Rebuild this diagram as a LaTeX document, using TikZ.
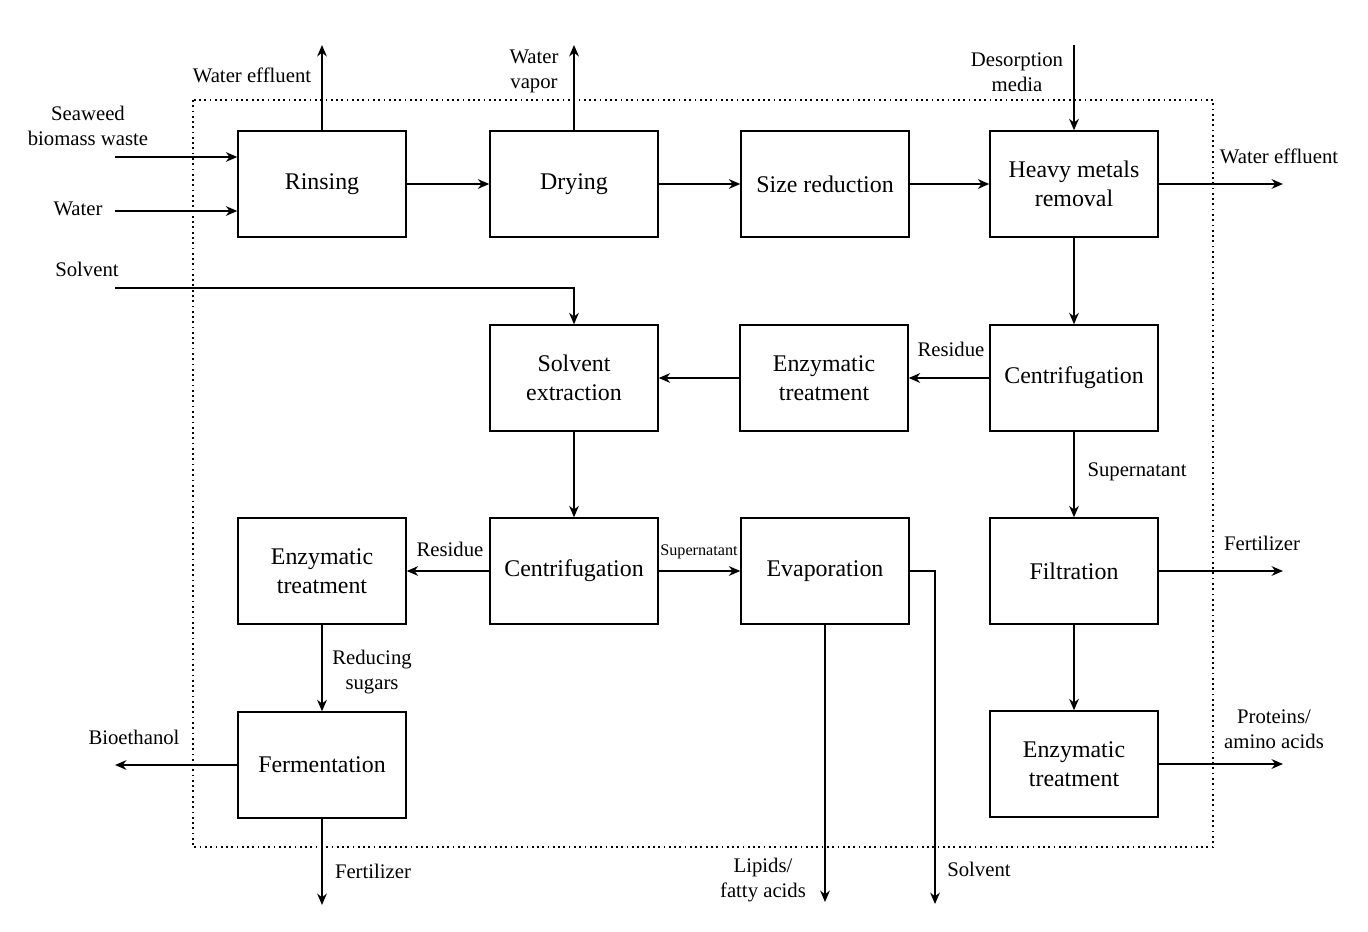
\documentclass[tikz,border=0pt]{standalone}
\usepackage{fontspec}
\setmainfont{Liberation Serif}
\usetikzlibrary{arrows.meta}

\begin{document}
\begin{tikzpicture}[x=0.02cm, y=-0.02cm,
    unit/.style={draw, line width=0.8pt, rectangle, align=center, minimum width=3.36cm, minimum height=2.12cm, font=\fontsize{13.6}{16.5}\selectfont},
    lbl/.style={align=center, inner sep=1pt, font=\fontsize{11.8}{14.2}\selectfont},
    flow/.style={-{Stealth[length=6.5pt, width=5.5pt]}, line width=1.1pt}]
    \useasboundingbox (0,0) rectangle (1368,932);

    % plant boundary
    \draw[dotted, line width=1pt] (193,100) rectangle (1213,847);

    % process units
    \node[unit] (rinse) at (322,184) {Rinsing};
    \node[unit] (dry) at (574,184) {Drying};
    \node[unit] (size) at (825,184) {Size reduction};
    \node[unit] (metal) at (1074,184) {Heavy metals\\removal};
    \node[unit] (solvx) at (574,378) {Solvent\\extraction};
    \node[unit] (enzA) at (824,378) {Enzymatic\\treatment};
    \node[unit] (centA) at (1074,378) {Centrifugation};
    \node[unit] (enzB) at (322,571) {Enzymatic\\treatment};
    \node[unit] (centB) at (574,571) {Centrifugation};
    \node[unit] (evap) at (825,571) {Evaporation};
    \node[unit] (filt) at (1074,571) {Filtration};
    \node[unit] (ferm) at (322,765) {Fermentation};
    \node[unit] (enzC) at (1074,764) {Enzymatic\\treatment};

    % free ends of streams
    \coordinate (seaweedIn) at (115,157);
    \coordinate (waterIn) at (115,211);
    \coordinate (effOut) at (322,45);
    \coordinate (vapOut) at (574,45);
    \coordinate (desIn) at (1074,45);
    \coordinate (effOutR) at (1283,184);
    \coordinate (solvIn) at (115,288);
    \coordinate (lipOut) at (825,902);
    \coordinate (solvOut) at (935,904);
    \coordinate (ethOut) at (115,765);
    \coordinate (fertOut) at (322,905);
    \coordinate (fertOutR) at (1283,571);
    \coordinate (protOut) at (1283,764);

    % stream labels
    \node[lbl] (l1) at (88,126) {Seaweed\\biomass waste};
    \node[lbl] (l2) at (78,209) {Water};
    \node[lbl] (l3) at (252,75) {Water effluent};
    \node[lbl] (l4) at (534,71) {Water\\vapor};
    \node[lbl] (l5) at (1017,72) {Desorption\\media};
    \node[lbl] (l6) at (1279,156) {Water effluent};
    \node[lbl] (l7) at (87,269) {Solvent};
    \node[lbl] (l8) at (951,349) {Residue};
    \node[lbl] (l9) at (1137,472) {Supernatant};
    \node[lbl] (l10) at (450,549) {Residue};
    \node[lbl, font=\fontsize{9.2}{11}\selectfont] (l11) at (699,552) {Supernatant};
    \node[lbl] (l12) at (1262,543) {Fertilizer};
    \node[lbl] (l13) at (372,672) {Reducing\\sugars};
    \node[lbl] (l14) at (1274,729) {Proteins/\\amino acids};
    \node[lbl] (l15) at (134,737) {Bioethanol};
    \node[lbl] (l16) at (373,871) {Fertilizer};
    \node[lbl] (l17) at (763,880) {Lipids/\\fatty acids};
    \node[lbl] (l18) at (979,869) {Solvent};

    % streams
    \draw[flow] (seaweedIn) -- (seaweedIn -| rinse.west);
    \draw[flow] (waterIn) -- (waterIn -| rinse.west);
    \draw[flow] (rinse.north) -- (effOut);
    \draw[flow] (dry.north) -- (vapOut);
    \draw[flow] (desIn) -- (metal.north);
    \draw[flow] (rinse) -- (dry);
    \draw[flow] (dry) -- (size);
    \draw[flow] (size) -- (metal);
    \draw[flow] (metal) -- (effOutR);
    \draw[flow] (metal) -- (centA);
    \draw[flow] (solvIn) -| (solvx.north);
    \draw[flow] (centA) -- (enzA);
    \draw[flow] (enzA) -- (solvx);
    \draw[flow] (solvx) -- (centB);
    \draw[flow] (centA) -- (filt);
    \draw[flow] (centB) -- (enzB);
    \draw[flow] (centB) -- (evap);
    \draw[flow] (evap.east) -| (solvOut);
    \draw[flow] (evap.south) -- (lipOut);
    \draw[flow] (enzB) -- (ferm);
    \draw[flow] (ferm.west) -- (ethOut);
    \draw[flow] (ferm.south) -- (fertOut);
    \draw[flow] (filt) -- (fertOutR);
    \draw[flow] (filt) -- (enzC);
    \draw[flow] (enzC) -- (protOut);
\end{tikzpicture}
\end{document}
